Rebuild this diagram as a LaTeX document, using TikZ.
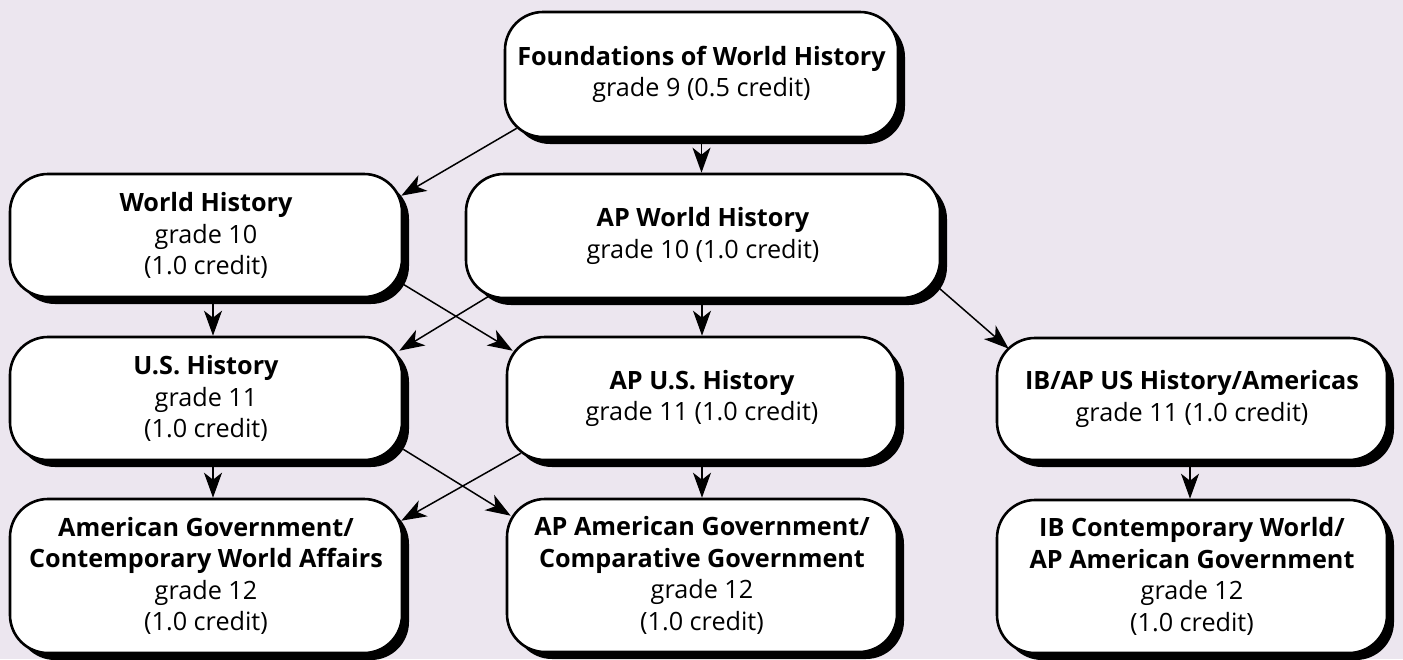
\documentclass[tikz,border=0pt]{standalone}
\usepackage{fontspec}
\setmainfont{Open Sans}
\usetikzlibrary{arrows.meta,shadows,calc}
\definecolor{lavender}{RGB}{236,230,239}
\tikzset{
  course/.style={draw, line width=1.3pt, fill=white, rounded corners=19pt,
    align=center, inner sep=0pt, font=\fontsize{12.6}{15.7}\selectfont,
    drop shadow={shadow xshift=3.5pt, shadow yshift=-3.5pt, fill=black, opacity=1}},
  link/.style={line width=0.75pt, -{Stealth[length=12.5pt,width=9pt,inset=3.5pt]}}
}
\begin{document}
\begin{tikzpicture}[x=0.5pt, y=-0.5pt]
    \fill[lavender] (0,0) rectangle (1403,659);
    \useasboundingbox (0,0) rectangle (1403,659);

    %% grade 9
    \node[course, minimum width=196.5pt, minimum height=62.5pt] (found) at (701.5,74.5)
        {\textbf{Foundations of World History}\\grade 9 (0.5 credit)};

    %% grade 10
    \node[course, minimum width=196pt, minimum height=61.5pt] (wh) at (206,235.5)
        {\textbf{World History}\\grade 10\\(1.0 credit)};
    \node[course, minimum width=237pt, minimum height=62pt] (apwh) at (703,236)
        {\textbf{AP World History}\\grade 10 (1.0 credit)};

    %% grade 11
    \node[course, minimum width=196pt, minimum height=61.5pt] (ush) at (206,398.5)
        {\textbf{U.S. History}\\grade 11\\(1.0 credit)};
    \node[course, minimum width=195pt, minimum height=61.5pt] (apush) at (702,398.5)
        {\textbf{AP U.S. History}\\grade 11 (1.0 credit)};
    \node[course, minimum width=195pt, minimum height=61pt] (ibush) at (1192,399)
        {\textbf{IB/AP US History/Americas}\\grade 11 (1.0 credit)};

    %% grade 12
    \node[course, minimum width=196pt, minimum height=77pt] (amgov) at (206,576)
        {\textbf{American Government/}\\\textbf{Contemporary World Affairs}\\grade 12\\(1.0 credit)};
    \node[course, minimum width=195pt, minimum height=76.5pt] (apamgov) at (702,575.5)
        {\textbf{AP American Government/}\\\textbf{Comparative Government}\\grade 12\\(1.0 credit)};
    \node[course, minimum width=195pt, minimum height=76.5pt] (ibcw) at (1192,576.5)
        {\textbf{IB Contemporary World/}\\\textbf{AP American Government}\\grade 12\\(1.0 credit)};

    %% arrows
    \draw[link] ($(found.south west)+(13,-10)$) to ($(wh.north east)+(-2,23)$);
    \draw[link] (found.south) to (found.south |- apwh.north);

    \draw[link] ($(wh.south)+(7,0)$) to ($(ush.north)+(7,0)$);
    \draw[link] ($(wh.south east)+(0,-14)$) to ($(apush.north west)+(7,15)$);
    \draw[link] ($(apwh.south west)+(24,-3)$) to ($(ush.north east)+(-4,15)$);
    \draw[link] (apwh.south -| apush.north) to (apush.north);
    \draw[link] ($(apwh.south east)+(-2,-11)$) to ($(ibush.north west)+(13,12)$);

    \draw[link] ($(ush.south)+(7,0)$) to ($(amgov.north)+(7,0)$);
    \draw[link] ($(ush.south east)+(0,-12)$) to ($(apamgov.north west)+(5,18)$);
    \draw[link] ($(apush.south west)+(15,-8)$) to ($(amgov.north east)+(-2,23)$);
    \draw[link] (apush.south) to (apamgov.north);
    \draw[link] ($(ibush.south)+(-2,0)$) to ($(ibcw.north)+(-2,0)$);

\end{tikzpicture}
\end{document}
